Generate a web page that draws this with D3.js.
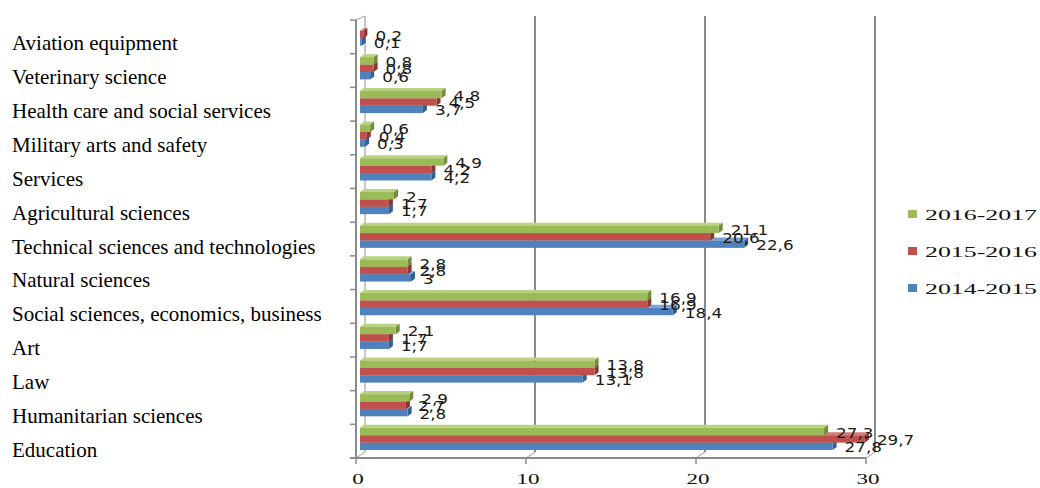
<!DOCTYPE html>
<html>
<head>
<meta charset="utf-8">
<script src="https://cdn.jsdelivr.net/npm/d3@7"></script>
<style>
  body { margin: 0; background: #fff; }
  svg { display: block; }
</style>
</head>
<body>
<div id="chart"></div>
<script>
// categories, top to bottom
const categories = [
  "Aviation equipment",
  "Veterinary science",
  "Health care and social services",
  "Military arts and safety",
  "Services",
  "Agricultural sciences",
  "Technical sciences and technologies",
  "Natural sciences",
  "Social sciences, economics, business",
  "Art",
  "Law",
  "Humanitarian sciences",
  "Education"
];

const seriesNames = ["2016-2017", "2015-2016", "2014-2015"];

const values2014 = [0.1, 0.6, 3.7, 0.3, 4.2, 1.7, 22.6, 3, 18.4, 1.7, 13.1, 2.8, 27.8];
const values2015 = [0.2, 0.8, 4.5, 0.4, 4.2, 1.7, 20.6, 2.8, 16.9, 1.7, 13.8, 2.7, 29.7];
const values2016 = [0, 0.8, 4.8, 0.6, 4.9, 2, 21.1, 2.8, 16.9, 2.1, 13.8, 2.9, 27.3];

const xTicks = [0, 10, 20, 30];

const width = 1040, height = 488;

const colors = {
  "2016-2017": { front: "#9bbb59", top: "#b9d27f", side: "#718c3a" },
  "2015-2016": { front: "#c0504d", top: "#d27a77", side: "#8c3431" },
  "2014-2015": { front: "#4f81bd", top: "#7aa0d0", side: "#355f91" }
};

const seriesValues = {
  "2016-2017": values2016,
  "2015-2016": values2015,
  "2014-2015": values2014
};

const svg = d3.select("#chart").append("svg")
  .attr("width", width)
  .attr("height", height);

const x = d3.scaleLinear().domain([0, 30]).range([360, 870]);
const y = d3.scaleBand().domain(categories).range([20, 458]);
const ySub = d3.scaleBand().domain(seriesNames).range([3.5, 25.7]);
const yLabel = d3.scalePoint().domain(categories).range([50, 457]);

const depthX = 4, depthY = -3; // fake 3d offset
const backX = 5, frontX = -4;  // wall vs front axis shift

// back wall gridlines
const grid = svg.append("g");
grid.selectAll("line.grid")
  .data(xTicks)
  .enter().append("line")
  .attr("x1", d => x(d) + backX)
  .attr("x2", d => x(d) + backX)
  .attr("y1", 16)
  .attr("y2", 452)
  .style("stroke", d => d === 0 ? "#c8c8c8" : "#8a8a8a")
  .style("stroke-width", 2);

// little diagonals from wall to front axis
grid.selectAll("line.diag")
  .data(xTicks)
  .enter().append("line")
  .attr("x1", d => x(d) + backX)
  .attr("y1", 452)
  .attr("x2", d => x(d) + frontX)
  .attr("y2", 458)
  .style("stroke", "#a0a0a0")
  .style("stroke-width", 1);

// front axes
const axisColor = "#8a8a8a";
svg.append("line")
  .attr("x1", x(0) + frontX).attr("x2", x(0) + frontX)
  .attr("y1", 20).attr("y2", 458)
  .style("stroke", axisColor).style("stroke-width", 2);
svg.append("line")
  .attr("x1", x(0) + frontX).attr("y1", 20)
  .attr("x2", x(0) + backX).attr("y2", 16)
  .style("stroke", "#a0a0a0").style("stroke-width", 1);
svg.append("line")
  .attr("x1", x(0) + frontX - 6).attr("x2", x(30) + frontX)
  .attr("y1", 458).attr("y2", 458)
  .style("stroke", axisColor).style("stroke-width", 2);

// category ticks on the left axis
const bandEdges = categories.map(c => y(c)).concat([458]);
svg.selectAll("line.ytick")
  .data(bandEdges)
  .enter().append("line")
  .attr("x1", x(0) + frontX - 6)
  .attr("x2", x(0) + frontX)
  .attr("y1", d => d)
  .attr("y2", d => d)
  .style("stroke", axisColor)
  .style("stroke-width", 1.5);

// value ticks on bottom axis
svg.selectAll("line.xtick")
  .data(xTicks)
  .enter().append("line")
  .attr("x1", d => x(d) + frontX)
  .attr("x2", d => x(d) + frontX)
  .attr("y1", 458)
  .attr("y2", 464)
  .style("stroke", axisColor)
  .style("stroke-width", 1.5);

svg.selectAll("text.xlab")
  .data(xTicks)
  .enter().append("text")
  .attr("x", d => x(d) + frontX + 2)
  .attr("y", 484)
  .attr("text-anchor", "middle")
  .attr("textLength", d => String(d).length * 11.5)
  .attr("lengthAdjust", "spacingAndGlyphs")
  .style("font-family", "'Liberation Serif', 'Times New Roman', serif")
  .style("font-size", "15px")
  .style("fill", "#111")
  .text(d => d);

// bars: blue first so the upper ones sit on top
const drawOrder = ["2014-2015", "2015-2016", "2016-2017"];
const bars = svg.append("g");
const barH = ySub.bandwidth();

drawOrder.forEach(function(s) {
  const data = categories.map((c, i) => ({ cat: c, v: seriesValues[s][i] }))
    .filter(d => d.v > 0);
  const g = bars.append("g");
  const x0 = x(0);

  // top face
  g.selectAll("polygon.top")
    .data(data)
    .enter().append("polygon")
    .attr("points", function(d) {
      const yt = y(d.cat) + ySub(s);
      const x1 = x(d.v);
      return [[x0, yt], [x0 + depthX, yt + depthY], [x1 + depthX, yt + depthY], [x1, yt]].join(" ");
    })
    .style("fill", colors[s].top);

  // side face
  g.selectAll("polygon.side")
    .data(data)
    .enter().append("polygon")
    .attr("points", function(d) {
      const yt = y(d.cat) + ySub(s);
      const x1 = x(d.v);
      return [[x1, yt], [x1 + depthX, yt + depthY], [x1 + depthX, yt + barH + depthY], [x1, yt + barH]].join(" ");
    })
    .style("fill", colors[s].side);

  // front face
  g.selectAll("rect")
    .data(data)
    .enter().append("rect")
    .attr("x", x0)
    .attr("y", d => y(d.cat) + ySub(s))
    .attr("width", d => x(d.v) - x0)
    .attr("height", barH)
    .style("fill", colors[s].front);
});

// value labels
const labels = svg.append("g");
drawOrder.forEach(function(s) {
  const data = categories.map((c, i) => ({ cat: c, v: seriesValues[s][i] }))
    .filter(d => d.v > 0);
  labels.selectAll("text.v" + s)
    .data(data)
    .enter().append("text")
    .attr("transform", function(d) {
      const tx = x(d.v) + 12;
      const ty = y(d.cat) + ySub(s) + barH / 2 + 6;
      return "translate(" + tx + "," + ty + ") scale(1.2,1)";
    })
    .style("font-family", "'DejaVu Sans', sans-serif")
    .style("font-size", "14px")
    .style("fill", "#1a1a1a")
    .text(d => String(d.v).replace(".", ","));
});

// category labels
svg.selectAll("text.cat")
  .data(categories)
  .enter().append("text")
  .attr("x", 12)
  .attr("y", d => yLabel(d))
  .style("font-family", "'Liberation Serif', 'Times New Roman', serif")
  .style("font-size", "21px")
  .style("fill", "#000")
  .text(d => d);

// legend
const legendY = d3.scalePoint().domain(seriesNames).range([214, 288]);
const legend = svg.selectAll("g.legend")
  .data(seriesNames)
  .enter().append("g")
  .attr("transform", d => "translate(908," + legendY(d) + ")");

legend.append("rect")
  .attr("x", 0)
  .attr("y", -4)
  .attr("width", 9)
  .attr("height", 8)
  .style("fill", d => colors[d].front);

legend.append("text")
  .attr("x", 17)
  .attr("y", 5.5)
  .attr("textLength", 112)
  .attr("lengthAdjust", "spacingAndGlyphs")
  .style("font-family", "'Liberation Serif', 'Times New Roman', serif")
  .style("font-size", "15px")
  .style("fill", "#111")
  .text(d => d);
</script>
</body>
</html>
